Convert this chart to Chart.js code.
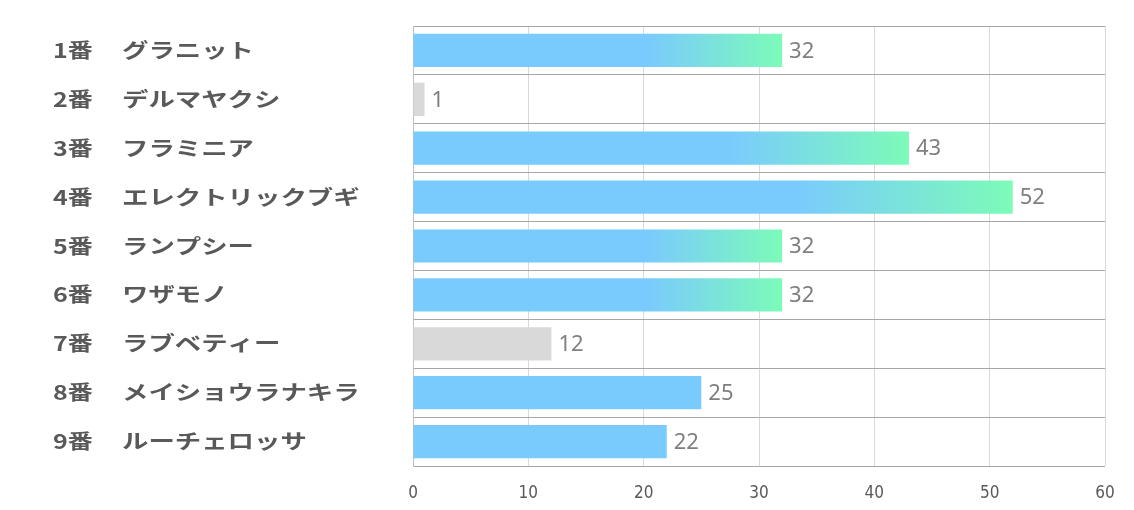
<!DOCTYPE html>
<html>
<head>
<meta charset="utf-8">
<script src="https://cdn.jsdelivr.net/npm/chart.js@4"></script>
<style>
  html, body { margin: 0; padding: 0; background: #fff; }
  #wrap { width: 1134px; height: 510px; }
</style>
</head>
<body>
<div id="wrap"><canvas id="grafico"></canvas></div>
<script>
const numeros = ["1番", "2番", "3番", "4番", "5番", "6番", "7番", "8番", "9番"];
const nombres = ["グラニット", "デルマヤクシ", "フラミニア", "エレクトリックブギ", "ランプシー", "ワザモノ", "ラブベティー", "メイショウラナキラ", "ルーチェロッサ"];
const valores = [32, 1, 43, 52, 32, 32, 12, 25, 22];
const tipos = ["grad", "gray", "grad", "grad", "grad", "grad", "gray", "blue", "blue"];
const ticksX = [0, 10, 20, 30, 40, 50, 60];

const AZUL = "#7acbfd";
const VERDE = "#7cfbb8";
const GRIS = "#d9d9d9";

const etiquetas = numeros.map((n, i) => n + "\u3000" + nombres[i]);

function colorBarra(c) {
  const tipo = tipos[c.dataIndex];
  if (tipo === "gray") return GRIS;
  if (tipo === "blue") return AZUL;
  const chart = c.chart;
  if (!chart.chartArea) return AZUL;
  const x = chart.scales.x;
  const x0 = x.getPixelForValue(0);
  const x1 = x.getPixelForValue(valores[c.dataIndex]);
  const g = chart.ctx.createLinearGradient(x0, 0, x1, 0);
  g.addColorStop(0, AZUL);
  g.addColorStop(0.64, AZUL);
  g.addColorStop(1, VERDE);
  return g;
}

// etiquetas de categoria, algo ensanchadas como en la imagen
const nombresPlugin = {
  id: "nombres",
  afterDraw(chart) {
    const ctx = chart.ctx;
    const y = chart.scales.y;
    ctx.save();
    ctx.fillStyle = "#595959";
    ctx.font = "bold 20px 'Noto Sans CJK JP'";
    ctx.textBaseline = "middle";
    ctx.textAlign = "left";
    numeros.forEach((n, i) => {
      const py = y.getPixelForValue(i);
      ctx.save();
      ctx.translate(53, py);
      ctx.scale(1.25, 1);
      ctx.fillText(n, 0, 0);
      ctx.restore();
      ctx.save();
      ctx.translate(122, py);
      ctx.scale(1.32, 1);
      ctx.fillText(nombres[i], 0, 0);
      ctx.restore();
    });
    ctx.restore();
  }
};

const valoresPlugin = {
  id: "valores",
  afterDatasetsDraw(chart) {
    const ctx = chart.ctx;
    const meta = chart.getDatasetMeta(0);
    ctx.save();
    ctx.fillStyle = "#7f7f7f";
    ctx.font = "22px 'Noto Sans'";
    ctx.textBaseline = "middle";
    ctx.textAlign = "left";
    meta.data.forEach((bar, i) => {
      ctx.fillText(String(valores[i]), bar.x + 7, bar.y + 1);
    });
    ctx.restore();
  }
};

new Chart(document.getElementById("grafico").getContext("2d"), {
  type: "bar",
  data: {
    labels: etiquetas,
    datasets: [{
      data: valores,
      backgroundColor: colorBarra,
      borderWidth: 0,
      barPercentage: 0.68,
      categoryPercentage: 1
    }]
  },
  options: {
    indexAxis: "y",
    responsive: true,
    maintainAspectRatio: false,
    animation: false,
    layout: { padding: { left: 53, right: 29, top: 26, bottom: 0 } },
    plugins: {
      legend: { display: false },
      tooltip: { enabled: false }
    },
    scales: {
      x: {
        min: 0,
        max: 60,
        afterBuildTicks: s => { s.ticks = ticksX.map(v => ({ value: v })); },
        afterFit: s => { s.height = 44; },
        grid: { color: "#d9d9d9", lineWidth: 1, drawTicks: false },
        border: { display: false },
        ticks: {
          color: "#595959",
          font: { family: "'Liberation Sans Narrow', 'DejaVu Sans Condensed', sans-serif", size: 17 },
          padding: 17
        }
      },
      y: {
        afterFit: s => { s.width = 360; },
        grid: { color: "#a6a6a6", lineWidth: 1, offset: true, drawTicks: false },
        border: { display: true, color: "#bfbfbf" },
        ticks: { display: false }
      }
    }
  },
  plugins: [nombresPlugin, valoresPlugin]
});
</script>
</body>
</html>
